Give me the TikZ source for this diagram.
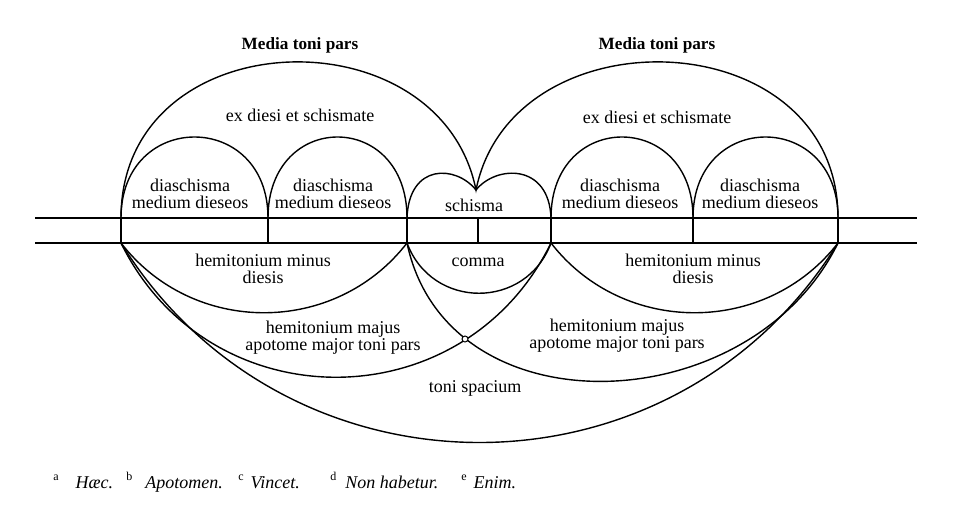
\documentclass[tikz,border=0pt]{standalone}
\usepackage{fontspec}
\setmainfont{Liberation Serif}
\usepackage{tikz}

\begin{document}
\begin{tikzpicture}[x=0.5pt, y=-0.5pt, font=\fontsize{9}{8.5}\selectfont,
    arcline/.style={line width=0.7pt},
    tickline/.style={line width=0.9pt},
    lab/.style={align=center, inner sep=1pt},
    head/.style={inner sep=1pt, font=\fontsize{8.6}{9}\selectfont\bfseries},
    note/.style={anchor=base west, inner sep=0pt, font=\fontsize{9}{10}\selectfont}]
  \useasboundingbox (0,0) rectangle (972,518);
  % --- the two rules of the scale -----------------------------------------
  \coordinate (ruleTL) at (35,218); \coordinate (ruleTR) at (917,218);
  \coordinate (ruleBL) at (35,243); \coordinate (ruleBR) at (917,243);
  \draw[arcline] (ruleTL) -- (ruleTR);
  \draw[arcline] (ruleBL) -- (ruleBR);
  % --- division points, a tick between the rules at each -----------------
  \foreach \p/\x in {A/121, B/268, C/407, D/478, E/551, F/693, G/838} {
     \coordinate (u\p) at (\x,218);
     \coordinate (l\p) at (\x,243);
     \draw[tickline] (u\p) -- (l\p);
  }
  \coordinate (cusp) at (476,190);
  % --- arcs above: diaschismata, schismata, ex diesi et schismate --------
  \foreach \a/\b in {A/B, B/C, E/F, F/G}
     \draw[arcline] (u\a) .. controls +(0,-108) and +(0,-108) .. (u\b);
  \draw[arcline] (uC) .. controls +(2,-55) and +(-20,-25) .. (cusp)
                      .. controls +(20,-25) and +(-2,-55) .. (uE);
  \draw[arcline] (uA) .. controls +(0,-198) and +(-36,-180) .. (cusp)
                      .. controls +(36,-180) and +(0,-198) .. (uG);
  % --- arcs below: hemitonia, comma, toni spacium ------------------------
  \draw[arcline] (lA) .. controls +(72,93) and +(-72,93) .. (lC);
  \draw[arcline] (lE) .. controls +(72,93) and +(-72,93) .. (lG);
  \draw[arcline] (lC) .. controls +(25,67) and +(-25,67) .. (lE);
  \draw[arcline] (lA) .. controls +(88,179) and +(-88,179) .. (lE);
  \draw[arcline] (lC) .. controls +(40,190) and +(-88,179) .. (lG);
  \draw[arcline] (lA) .. controls +(165,266) and +(-165,266) .. (lG);
  \node[draw, circle, fill=white, inner sep=0pt, minimum size=3pt, line width=0.5pt] (knot) at (465,339) {};
  % --- labels -------------------------------------------------------------
  \node[head] (mediaL) at (300,45) {Media toni pars};
  \node[head] (mediaR) at (657,45) {Media toni pars};
  \node[lab] (exL) at (300,115) {ex diesi et schismate};
  \node[lab] (exR) at (657,117) {ex diesi et schismate};
  \foreach \n/\x in {1/190, 2/333, 3/620, 4/760}
     \node[lab] (dia\n) at (\x,194) {diaschisma\\medium dieseos};
  \node[lab] (schisma) at (474,205) {schisma};
  \node[lab] (minusL) at (263,269) {hemitonium minus\\diesis};
  \node[lab] (comma) at (478,262) {comma};
  \node[lab] (minusR) at (693,269) {hemitonium minus\\diesis};
  \node[lab] (majusL) at (333,338) {hemitonium majus\\apotome major toni pars};
  \node[lab] (majusR) at (617,336) {hemitonium majus\\apotome major toni pars};
  \node[lab] (spacium) at (475,388) {toni spacium};
  % --- footnotes ----------------------------------------------------------
  \node[note] (fnA) at (53,488) {\textsuperscript{a}\hspace{8pt}\textit{Hæc.}};
  \node[note] (fnB) at (126,488) {\textsuperscript{b}\hspace{6pt}\textit{Apotomen.}};
  \node[note] (fnC) at (238,488) {\textsuperscript{c}\hspace{3pt}\textit{Vincet.}};
  \node[note] (fnD) at (330,488) {\textsuperscript{d}\hspace{4pt}\textit{Non habetur.}};
  \node[note] (fnE) at (461,488) {\textsuperscript{e}\hspace{3pt}\textit{Enim.}};
\end{tikzpicture}
\end{document}
